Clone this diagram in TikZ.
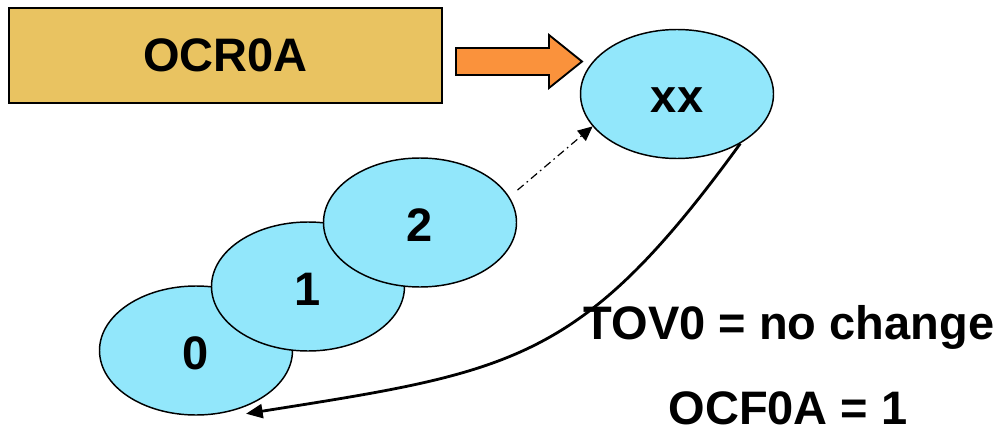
\documentclass[tikz,border=0pt]{standalone}
\usepackage{fontspec}
\setsansfont{Liberation Sans}
\definecolor{cntblue}{RGB}{146,231,251}
\definecolor{regyellow}{RGB}{233,195,97}
\definecolor{matchorange}{RGB}{250,146,60}
\tikzset{every picture/.style={/utils/exec={\sffamily\bfseries}}}
\usetikzlibrary{calc}
\usetikzlibrary{positioning}
\usetikzlibrary{shapes.geometric,arrows.meta}

\begin{document}
\begin{tikzpicture}[x=0.75pt, y=-0.75pt,
    big/.style={font=\fontsize{35.25}{42}\selectfont},
    count/.style={ellipse, draw, line width=1.1pt, fill=cntblue, inner sep=0pt,
      minimum width=144.75pt, minimum height=96.75pt,
      text height=28.5pt, text depth=0pt, big},
    hop/.style={line width=0.9pt, dash pattern=on 6pt off 3pt on 1.2pt off 3pt,
      -{Triangle[length=11pt, width=10pt]}},
    wrap/.style={line width=2.1pt, -{Triangle[length=12.5pt, width=10.5pt]}}]
  \useasboundingbox (0,0) rectangle (1005,431);

  \node [draw, line width=1.5pt, fill=regyellow, minimum width=324.75pt,
         minimum height=71.25pt, big] (ocr) at (225.5,55.5) {OCR0A};
  \draw [line width=1.4pt, fill=matchorange, line join=miter]
    (456,48) -- (549,48) -- (549,35) -- (582,61.5) -- (549,88) -- (549,75)
    -- (456,75) -- cycle;

  \node [count] (xx) at (677,94) {xx};

  \foreach \i in {0,1,2} {
    \node [count] (cnt\i) at (196+112*\i, 350.5-64*\i) {\i};
  }

  \draw [hop] ([shift={(10,-4)}]cnt2.18) -- (xx.201);

  \coordinate (back) at ($(cnt0.south)+(50,-2)$);
  \draw [wrap] (xx.-38) to [out=234, in=9, looseness=1.23] (back);

  \node [big, inner sep=0pt, anchor=base] (tov) at (789,339) {TOV0 = no change};
  \node [big, inner sep=0pt, anchor=base] (ocf) at (788,424) {OCF0A = 1};
\end{tikzpicture}
\end{document}
